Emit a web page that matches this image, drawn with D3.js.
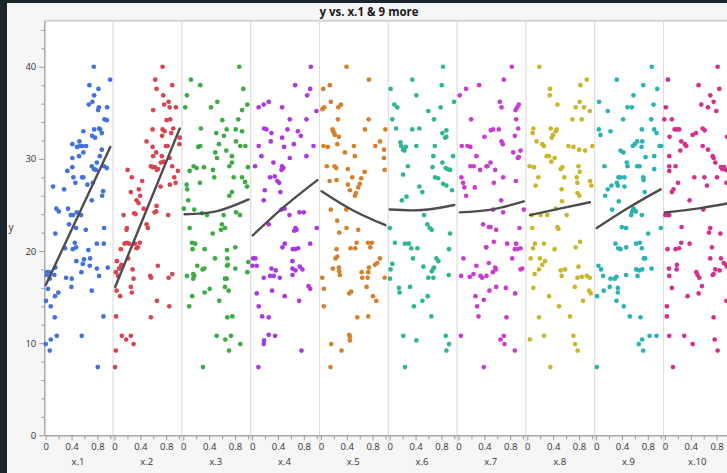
<!DOCTYPE html>
<html>
<head>
<meta charset="utf-8">
<script src="https://cdn.jsdelivr.net/npm/d3@7"></script>
<style>
  html, body { margin: 0; padding: 0; background: #1b252c; }
  svg { display: block; }
  text { font-family: "Open Sans", "Segoe UI", sans-serif; }
</style>
</head>
<body>
<svg id="chart" width="727" height="473"></svg>
<script>
// ---- data ----
const panelNames = ["x.1", "x.2", "x.3", "x.4", "x.5", "x.6", "x.7", "x.8", "x.9", "x.10"];
const panelColors = ["#4170e0", "#d84452", "#3bab42", "#ab38e4", "#d5802b", "#2db791", "#c83dd0", "#c8b72a", "#2ab2b4", "#d6308f"];
const yMajorTicks = [0, 10, 20, 30, 40];
const xMajorTicks = [0, 0.4, 0.8];
const xMinorTicks = [0.2, 0.6, 1.0];

const pts1 = [[0.744,40.0],[0.997,38.6],[0.676,38.0],[0.816,37.6],[0.749,36.9],[0.667,35.9],[0.722,36.2],[0.822,35.6],[0.811,35.3],[0.950,35.6],[0.909,34.3],[0.946,34.2],[0.583,33.0],[0.749,33.2],[0.826,33.3],[0.842,33.2],[0.868,32.8],[0.718,32.5],[0.764,32.3],[0.412,31.6],[0.521,31.9],[0.485,31.3],[0.532,31.4],[0.563,31.4],[0.625,31.4],[0.583,30.7],[0.868,31.0],[0.412,30.1],[0.516,30.3],[0.837,30.3],[0.335,28.7],[0.412,29.1],[0.713,29.2],[0.744,28.9],[0.775,28.8],[0.791,29.6],[0.904,29.2],[0.946,29.0],[0.428,28.0],[0.563,28.0],[0.583,28.0],[0.459,27.4],[0.113,27.0],[0.284,26.7],[0.645,27.2],[0.729,27.4],[0.888,26.5],[0.873,26.0],[0.713,25.5],[0.164,24.6],[0.202,24.3],[0.346,24.6],[0.481,24.2],[0.388,23.9],[0.423,23.9],[0.547,23.9],[0.361,22.9],[0.470,22.5],[0.620,22.3],[0.904,22.5],[0.149,21.9],[0.450,20.9],[0.791,20.8],[0.899,20.8],[0.470,20.4],[0.299,20.3],[0.419,20.2],[0.660,20.1],[0.474,18.9],[0.593,19.1],[0.687,19.2],[0.574,18.6],[0.682,18.4],[0.552,17.7],[0.791,18.1],[0.826,17.3],[0.961,18.2],[0.020,17.7],[0.051,17.7],[0.016,17.4],[0.133,17.4],[0.149,18.2],[0.062,17.0],[0.315,17.1],[0.403,17.0],[0.397,16.1],[0.036,15.9],[0.195,15.5],[0.144,15.1],[0.713,15.7],[0.005,14.6],[0.078,14.0],[0.140,12.8],[0.893,12.9],[0.171,10.8],[0.558,10.8],[0.078,10.4],[0.000,9.9],[0.062,9.2],[0.806,7.4]];

const pts2 = [[0.744,40.0],[0.630,38.6],[0.651,37.6],[0.893,38.0],[0.754,36.9],[0.769,35.9],[0.837,36.2],[0.853,35.6],[0.950,35.6],[0.598,35.3],[0.806,34.2],[0.862,34.3],[0.589,33.2],[0.744,33.2],[0.775,33.0],[0.909,33.3],[0.737,32.5],[0.878,32.8],[1.010,32.3],[0.496,31.9],[1.005,31.6],[0.589,31.3],[0.795,31.4],[0.822,31.4],[0.645,30.7],[0.598,30.3],[0.733,30.3],[0.853,30.1],[0.671,28.9],[0.563,29.2],[0.589,29.1],[0.625,29.1],[0.656,28.8],[0.718,29.6],[0.760,29.7],[0.893,29.2],[0.981,28.7],[0.202,28.8],[0.268,28.0],[0.924,28.0],[0.428,27.6],[0.713,27.0],[0.857,27.2],[0.946,27.4],[0.253,26.4],[0.377,26.7],[0.397,26.0],[0.341,25.5],[0.372,25.2],[0.651,24.9],[0.450,24.6],[0.645,24.3],[0.620,24.2],[0.140,23.9],[0.304,24.1],[0.326,24.0],[0.831,23.9],[0.496,22.9],[0.516,22.5],[0.191,22.5],[0.186,22.3],[0.155,20.8],[0.191,20.9],[0.226,20.8],[0.315,20.8],[0.392,20.9],[0.361,20.4],[0.341,20.3],[0.098,20.2],[0.211,19.2],[0.036,18.9],[0.109,18.5],[0.098,18.3],[0.071,18.1],[0.279,18.0],[0.671,18.4],[0.020,17.7],[0.056,17.3],[0.552,17.3],[0.567,17.1],[0.893,17.5],[0.837,17.1],[0.295,17.0],[0.031,15.7],[0.253,16.1],[0.268,15.5],[0.087,15.1],[0.656,14.6],[0.847,14.0],[0.025,12.9],[0.563,12.8],[0.113,10.8],[0.253,10.8],[0.180,10.4],[0.295,9.9],[0.020,9.2],[0.009,7.4]];

const pts3 = [[0.867,40.0],[0.118,38.6],[0.262,38.0],[0.929,37.6],[0.056,36.9],[0.029,35.6],[0.428,35.6],[0.526,36.2],[0.991,35.9],[0.909,35.3],[0.603,34.2],[0.851,34.3],[0.273,33.3],[0.671,33.2],[0.811,33.2],[0.909,33.0],[0.510,32.8],[0.629,32.5],[0.552,31.6],[0.816,31.9],[0.231,31.3],[0.262,31.4],[0.665,30.9],[0.882,31.4],[0.960,31.4],[0.495,30.7],[0.753,30.3],[0.521,30.1],[0.160,29.2],[0.098,28.7],[0.206,29.0],[0.319,29.1],[0.459,28.8],[0.712,29.2],[0.753,29.6],[1.000,29.1],[0.479,28.0],[0.780,28.0],[0.909,28.0],[0.955,27.5],[0.257,27.4],[0.051,27.2],[0.060,26.7],[0.986,27.0],[0.753,26.4],[0.712,26.0],[0.076,25.5],[0.009,24.6],[0.169,24.5],[0.816,24.2],[0.288,24.1],[0.366,23.9],[0.625,23.9],[0.878,23.9],[0.598,22.9],[0.645,22.5],[0.583,22.3],[0.098,22.5],[0.454,21.9],[0.133,20.9],[0.184,20.8],[0.144,20.2],[0.330,20.2],[0.805,20.4],[0.676,20.1],[0.681,19.2],[0.490,19.2],[1.006,18.8],[0.691,18.5],[0.676,18.4],[0.216,18.4],[0.324,18.1],[0.299,18.0],[0.805,18.1],[0.991,17.7],[0.056,17.3],[0.153,17.5],[0.169,17.3],[0.153,17.0],[0.645,17.0],[0.671,17.0],[0.408,15.9],[0.330,15.5],[0.645,16.1],[0.702,15.7],[0.138,15.1],[0.557,14.6],[0.091,14.0],[0.681,12.8],[0.758,12.9],[0.516,10.8],[0.738,10.8],[0.650,10.4],[0.882,9.9],[0.707,9.2],[0.304,7.4]];

const pts4 = [[0.909,40.0],[0.666,38.0],[0.898,37.6],[0.852,36.9],[0.102,35.6],[0.180,35.9],[0.257,36.2],[0.464,35.6],[0.996,35.2],[0.583,34.3],[0.185,33.3],[0.221,33.2],[0.299,32.8],[0.547,33.2],[0.708,33.0],[0.841,34.3],[0.754,32.5],[0.464,32.3],[0.289,31.9],[0.102,31.4],[0.495,31.3],[0.645,31.6],[0.950,31.4],[0.144,30.3],[0.583,30.1],[0.330,29.6],[0.045,29.2],[0.464,29.2],[0.485,29.0],[0.454,28.8],[0.278,28.0],[0.350,28.1],[0.391,27.6],[0.418,27.4],[0.841,30.3],[0.438,26.4],[0.196,26.6],[0.180,25.5],[0.454,24.5],[0.501,24.6],[0.578,23.9],[0.733,24.2],[0.800,24.2],[0.257,22.9],[0.671,22.5],[0.687,22.3],[0.651,22.2],[1.000,22.5],[0.505,20.8],[0.469,20.4],[0.899,20.8],[0.630,20.2],[0.666,20.2],[0.712,20.3],[0.014,19.2],[0.051,19.2],[0.071,18.4],[0.004,18.4],[0.624,18.9],[0.299,18.1],[0.366,17.9],[0.335,17.3],[0.278,17.3],[0.428,17.1],[0.624,18.1],[0.671,17.9],[0.738,18.3],[0.779,18.0],[0.624,17.4],[0.180,17.1],[0.309,15.7],[0.505,15.1],[0.872,16.2],[0.898,15.9],[0.071,15.4],[0.102,14.0],[0.728,14.6],[0.154,12.9],[0.257,12.8],[0.185,10.3],[0.180,9.9],[0.257,10.9],[0.355,10.8],[0.764,9.2],[0.097,7.4]];

const pts5 = [[0.397,40.0],[0.743,38.6],[0.035,37.6],[0.138,38.0],[0.024,35.4],[0.050,35.6],[0.154,36.2],[0.268,35.6],[0.310,35.9],[0.263,34.3],[0.738,34.3],[0.180,33.2],[0.190,33.0],[0.216,32.6],[0.278,32.4],[0.206,32.8],[0.681,33.2],[0.997,33.2],[0.914,31.9],[0.040,31.4],[0.107,31.3],[0.253,31.6],[0.510,31.4],[0.841,31.4],[0.976,31.0],[0.371,30.7],[0.526,30.3],[0.976,30.1],[0.092,29.2],[0.211,29.2],[0.237,29.0],[0.417,28.9],[0.676,28.6],[0.986,28.8],[0.134,27.6],[0.242,27.7],[0.485,28.0],[0.417,27.2],[0.448,26.6],[0.603,27.3],[0.624,27.9],[0.578,26.9],[0.542,26.3],[0.526,26.0],[0.154,24.5],[0.392,24.5],[0.253,23.3],[0.397,22.5],[0.578,22.3],[0.284,22.0],[0.552,20.9],[0.459,20.3],[0.532,20.3],[0.728,20.9],[0.764,20.4],[0.790,20.9],[0.242,20.2],[0.227,19.2],[0.253,19.4],[0.020,17.1],[0.045,15.9],[0.045,14.0],[0.185,18.1],[0.278,18.2],[0.294,17.4],[0.284,17.8],[0.630,17.7],[0.733,17.7],[0.723,17.1],[0.640,17.1],[0.743,18.2],[0.836,18.5],[0.872,18.7],[0.914,19.2],[0.986,17.1],[0.707,16.1],[0.438,15.4],[0.469,15.6],[0.806,15.1],[0.857,14.6],[0.563,12.8],[0.733,12.9],[0.438,10.9],[0.448,10.7],[0.448,10.3],[0.159,9.9],[0.319,9.2],[0.149,7.4]];

const pts6 = [[0.826,40.0],[0.350,38.6],[0.805,38.0],[0.014,37.6],[0.412,36.9],[0.995,36.2],[0.071,35.9],[0.117,35.6],[0.598,35.2],[0.788,35.6],[0.040,34.3],[0.686,34.3],[0.097,33.3],[0.350,33.2],[0.459,33.3],[0.815,32.8],[0.877,33.1],[0.877,32.4],[0.857,32.3],[0.177,31.4],[0.207,31.0],[0.227,30.9],[0.248,31.3],[0.166,31.8],[0.412,31.4],[0.698,31.4],[0.980,30.3],[0.676,30.3],[0.281,29.2],[0.664,29.1],[0.815,29.6],[0.867,29.0],[0.893,28.9],[0.934,28.8],[0.207,28.3],[0.702,28.0],[0.748,27.9],[0.826,27.3],[0.877,27.1],[0.964,26.6],[0.459,27.0],[0.505,26.4],[0.188,25.5],[0.260,25.9],[0.531,23.9],[0.583,22.9],[0.619,22.5],[0.650,22.3],[0.000,22.5],[0.934,21.9],[0.081,20.9],[0.236,20.8],[0.298,20.8],[0.334,20.3],[0.428,20.3],[0.722,19.2],[0.753,18.9],[0.676,18.1],[0.650,17.8],[0.686,18.2],[0.918,20.2],[0.360,19.2],[0.040,18.6],[0.014,18.0],[0.004,17.0],[0.521,18.3],[0.598,17.1],[0.676,17.1],[0.914,17.4],[0.143,16.0],[0.153,15.5],[0.314,16.1],[0.588,15.1],[0.505,14.6],[0.375,14.0],[0.645,12.9],[0.210,10.8],[0.412,10.3],[0.867,10.8],[0.918,9.9],[0.877,9.2],[0.236,7.4]];

const pts7 = [[0.019,36.9],[0.117,37.6],[0.319,38.0],[0.195,34.3],[0.050,31.4],[0.138,31.4],[0.184,31.3],[0.277,30.3],[0.448,29.2],[0.184,29.2],[0.236,29.2],[0.335,28.8],[0.045,28.0],[0.071,27.4],[0.091,26.9],[0.117,26.0],[0.252,26.9],[0.469,22.6],[0.076,19.2],[0.040,17.3],[0.174,17.2],[0.231,17.5],[0.277,18.4],[0.340,17.3],[0.366,17.1],[0.428,20.4],[0.262,15.1],[0.288,14.0],[0.309,12.9],[0.433,17.3],[0.036,10.8],[0.391,7.4],[0.825,40.0],[0.701,38.6],[0.639,36.2],[0.665,35.6],[0.934,35.9],[0.908,35.6],[0.882,35.3],[0.892,34.3],[0.923,33.3],[0.536,33.2],[0.500,33.1],[0.402,32.4],[0.624,33.2],[0.665,31.9],[0.686,31.6],[0.872,32.5],[0.846,30.7],[0.960,30.9],[0.934,30.2],[0.918,30.1],[0.495,29.6],[0.433,29.2],[0.567,28.8],[0.546,27.4],[0.691,28.0],[0.887,27.6],[0.660,25.5],[0.536,24.5],[0.691,24.2],[1.011,24.5],[0.381,22.9],[0.495,22.6],[0.582,22.3],[0.944,22.5],[0.546,21.0],[0.428,20.4],[0.753,20.8],[0.892,20.8],[0.872,20.2],[0.908,20.2],[0.960,20.3],[0.831,19.2],[0.469,18.7],[0.567,18.2],[0.577,18.0],[0.531,17.7],[0.986,18.1],[0.960,18.0],[0.391,14.7],[0.582,16.1],[0.479,15.7],[0.732,16.0],[0.877,15.4],[0.743,12.8],[0.650,10.4],[0.712,9.9],[0.701,10.8],[0.872,9.2]];

const pts8 = [[0.186,40.0],[0.920,38.6],[0.352,37.6],[0.347,36.9],[0.821,38.0],[0.465,35.9],[0.749,35.6],[0.811,36.2],[0.878,35.6],[0.966,35.2],[0.697,34.3],[0.842,34.3],[0.093,33.3],[0.082,32.8],[0.362,33.3],[0.455,33.2],[0.440,33.0],[0.398,32.6],[0.377,32.3],[0.144,31.9],[0.232,31.6],[0.258,31.4],[0.636,31.4],[0.713,31.3],[0.801,31.0],[0.894,30.9],[1.007,31.4],[0.300,30.3],[0.336,30.3],[0.372,29.7],[0.424,30.1],[0.036,29.2],[0.103,29.1],[0.517,28.9],[0.543,29.1],[0.170,28.0],[0.129,27.1],[0.573,28.0],[0.791,29.2],[0.811,28.6],[0.765,28.0],[0.775,27.4],[0.971,27.6],[0.992,27.1],[0.532,26.7],[0.775,26.3],[0.806,26.0],[0.537,25.4],[0.069,23.9],[0.206,23.9],[0.309,23.9],[0.609,23.9],[0.440,24.6],[0.077,22.5],[0.465,22.6],[0.481,22.4],[0.118,20.8],[0.258,20.8],[0.088,20.3],[0.052,19.2],[0.196,19.2],[0.274,18.9],[0.232,18.5],[0.180,18.0],[0.113,17.5],[0.423,20.2],[0.749,20.4],[0.816,21.0],[0.791,18.3],[0.517,17.9],[0.584,18.0],[0.532,17.3],[0.734,16.1],[0.775,17.1],[0.842,17.2],[0.920,17.3],[0.966,17.1],[0.956,15.7],[0.982,15.4],[0.093,16.0],[0.336,15.1],[0.863,14.6],[0.491,14.0],[0.180,12.8],[0.661,12.9],[0.041,10.4],[0.258,10.8],[0.713,10.8],[0.739,9.9],[0.780,9.2],[0.356,7.4]];

const pts9 = [[0.862,40.0],[0.320,38.6],[0.729,38.0],[0.946,37.6],[0.578,36.9],[0.046,36.2],[0.180,35.2],[0.486,35.6],[0.553,35.6],[0.889,35.9],[0.418,34.3],[0.853,34.3],[0.041,33.2],[0.067,32.6],[0.222,33.0],[0.708,33.2],[0.899,33.2],[0.935,32.8],[0.599,31.6],[0.568,31.4],[0.635,31.9],[0.713,31.9],[0.982,31.4],[1.007,31.4],[0.377,30.9],[0.423,30.7],[0.129,29.2],[0.475,29.6],[0.486,29.2],[0.635,29.2],[0.672,29.2],[0.765,30.2],[0.703,31.3],[0.899,30.3],[0.899,28.9],[0.346,28.0],[0.377,28.0],[0.439,28.0],[0.320,27.4],[0.336,27.1],[0.439,27.0],[0.729,28.0],[0.734,27.7],[0.140,26.0],[0.180,26.7],[0.237,27.1],[0.751,26.4],[0.806,21.9],[0.247,24.5],[0.351,25.4],[0.579,24.6],[0.615,24.3],[0.558,24.3],[0.594,24.4],[0.543,23.9],[0.708,23.9],[0.398,22.6],[0.465,22.5],[1.002,22.5],[0.300,20.8],[0.341,20.3],[0.377,20.2],[0.465,20.4],[0.620,20.8],[0.677,20.9],[0.708,20.3],[0.739,19.2],[0.760,19.2],[0.620,18.0],[0.667,17.9],[0.713,18.0],[0.641,17.3],[0.858,18.1],[0.036,18.4],[0.077,18.0],[0.108,17.3],[0.015,15.1],[0.118,15.7],[0.222,17.0],[0.289,17.0],[0.315,17.2],[0.336,16.0],[0.336,15.5],[0.211,16.1],[0.315,14.6],[0.465,17.4],[0.428,14.0],[0.522,12.9],[0.687,12.8],[0.713,10.4],[0.661,9.9],[0.729,9.2],[0.827,10.8],[0.935,10.8],[0.011,7.4]];

const pts10 = [[0.816,40.0],[0.046,38.6],[0.842,37.6],[0.521,38.0],[0.702,36.9],[0.754,36.2],[0.563,35.9],[0.666,35.6],[0.796,35.2],[0.015,35.6],[-0.010,34.3],[0.108,34.3],[0.150,33.2],[0.186,33.2],[0.222,33.2],[0.429,32.6],[0.481,32.8],[0.584,33.3],[0.615,33.1],[0.072,32.4],[0.253,31.9],[0.310,31.6],[0.331,31.4],[0.237,30.9],[0.584,31.4],[0.666,31.0],[0.961,32.4],[0.739,30.3],[0.754,30.1],[0.780,29.6],[0.868,29.1],[0.889,28.9],[0.915,29.1],[0.946,28.8],[0.067,30.3],[0.067,29.2],[0.067,28.7],[0.165,29.2],[0.202,27.4],[0.134,26.7],[0.108,26.4],[0.455,28.0],[0.610,28.0],[0.651,27.1],[0.806,28.0],[0.951,27.4],[0.382,25.5],[0.041,23.9],[0.067,23.9],[0.005,23.9],[0.594,24.5],[0.258,22.6],[0.702,22.5],[0.682,22.0],[0.858,21.9],[0.253,20.9],[0.382,20.8],[0.165,20.2],[0.222,20.3],[0.041,20.2],[0.728,20.4],[0.702,19.2],[0.868,19.2],[0.910,18.7],[0.946,18.5],[0.961,18.3],[0.062,18.1],[0.186,18.5],[0.181,18.0],[0.067,17.3],[0.486,17.7],[0.506,17.4],[0.532,17.1],[0.573,16.2],[0.522,15.4],[0.754,17.5],[0.780,18.0],[0.847,17.9],[0.739,17.4],[0.108,16.0],[0.351,15.1],[0.951,14.6],[0.031,14.0],[0.031,12.9],[0.754,12.8],[0.067,10.8],[0.299,10.8],[0.429,9.9],[0.770,10.4],[0.816,9.2],[0.124,7.4]];

const panelPoints = [pts1, pts2, pts3, pts4, pts5, pts6, pts7, pts8, pts9, pts10];

// fitted curve per panel: [x, y] at the first, middle and last point
const fitStart = [[0.00,16.3],[0.01,16.1],[0.02,24.0],[0.01,21.7],[0.01,26.5],[0.00,24.5],[0.02,24.2],[0.04,23.9],[0.01,22.5],[0.00,24.2]];
const fitMid   = [[0.50,23.8],[0.51,24.7],[0.51,24.3],[0.51,24.9],[0.50,24.4],[0.50,24.45],[0.51,24.5],[0.50,24.6],[0.50,24.7],[0.50,24.6]];
const fitEnd   = [[1.00,31.3],[1.01,33.3],[1.01,25.6],[1.01,27.7],[1.00,22.8],[1.00,25.0],[1.01,25.4],[0.97,25.3],[1.00,26.7],[1.00,25.2]];

// ---- layout ----
const W = 727, H = 473;
const plotLeft = 44.3, plotTop = 20.7, plotBottom = 435.3;
const panelW = 68.8;

const svg = d3.select("#chart");

// window frame and page background
svg.append("rect").attr("x", 0).attr("y", 0).attr("width", W).attr("height", H).attr("fill", "#1b252c");
svg.append("rect").attr("x", 7).attr("y", 3).attr("width", W - 7).attr("height", H - 3).attr("fill", "#f6f6f6");

// title
svg.append("text")
  .attr("x", 369).attr("y", 16)
  .attr("text-anchor", "middle")
  .attr("font-size", 11.5).attr("font-weight", "bold").attr("fill", "#1a1a1a")
  .text("y vs. x.1 & 9 more");

const plotRight = plotLeft + panelW * panelNames.length;

// white plotting area
svg.append("rect")
  .attr("x", plotLeft).attr("y", plotTop)
  .attr("width", plotRight - plotLeft).attr("height", plotBottom - plotTop)
  .attr("fill", "#ffffff");

const y = d3.scaleLinear().domain([0, 45]).range([plotBottom, plotTop]);

// top border
svg.append("line")
  .attr("x1", plotLeft).attr("x2", plotRight)
  .attr("y1", plotTop).attr("y2", plotTop)
  .attr("stroke", "#d2d2d2").attr("stroke-width", 2);

// y axis: major and minor ticks
const yAxis = svg.append("g").attr("transform", `translate(${plotLeft},0)`)
  .call(d3.axisLeft(y).tickValues(yMajorTicks).tickSize(5).tickSizeOuter(0).tickPadding(3).tickFormat(d3.format("d")));
const yMinor = d3.range(2, 45, 2).filter(v => v % 10 !== 0);
svg.append("g").attr("transform", `translate(${plotLeft},0)`)
  .call(d3.axisLeft(y).tickValues(yMinor).tickSize(3).tickFormat(""))
  .call(g => g.select(".domain").remove());

svg.selectAll(".tick line").attr("stroke", "#9a9a9a");
yAxis.select(".domain").attr("stroke", "#a8a8a8").attr("stroke-width", 1.5);
yAxis.selectAll("text").attr("font-size", 9.5).attr("fill", "#333")
  .style("font-family", "'Open Sans', sans-serif");

// y axis title
svg.append("text")
  .attr("x", 11).attr("y", 231).attr("text-anchor", "middle")
  .attr("font-size", 10).attr("fill", "#333").text("y");

// panels
const x = d3.scaleLinear().domain([-0.022, 1.043]).range([0, panelW]);

panelNames.forEach((name, i) => {
  const left = plotLeft + i * panelW;
  const g = svg.append("g").attr("transform", `translate(${left},0)`);

  // separator on the right edge of each panel
  if (i < panelNames.length - 1) {
    g.append("line")
      .attr("x1", panelW).attr("x2", panelW)
      .attr("y1", plotTop).attr("y2", plotBottom + 8)
      .attr("stroke", "#dedede").attr("stroke-width", 1.2);
  }

  // bottom axis per panel
  const ax = g.append("g").attr("transform", `translate(0,${plotBottom})`)
    .call(d3.axisBottom(x).tickValues(xMajorTicks).tickSize(5).tickSizeOuter(0).tickPadding(3)
      .tickFormat(d => d === 0 ? "0" : d3.format(".1f")(d)));
  ax.select(".domain").attr("stroke", "#a8a8a8").attr("stroke-width", 1.5);
  ax.selectAll("line").attr("stroke", "#9a9a9a");
  ax.selectAll("text").attr("font-size", 9.5).attr("fill", "#333")
    .style("font-family", "'Open Sans', sans-serif");

  const axMinor = g.append("g").attr("transform", `translate(0,${plotBottom})`)
    .call(d3.axisBottom(x).tickValues(xMinorTicks).tickSize(4).tickFormat(""));
  axMinor.select(".domain").remove();
  axMinor.selectAll("line").attr("stroke", "#9a9a9a");

  // panel title under the axis
  g.append("text")
    .attr("x", x(0.5)).attr("y", 465)
    .attr("text-anchor", "middle")
    .attr("font-size", 9.5).attr("fill", "#333")
    .text(name);

  // points
  g.append("g").selectAll("circle")
    .data(panelPoints[i])
    .join("circle")
    .attr("cx", d => x(d[0]))
    .attr("cy", d => y(d[1]))
    .attr("r", 2.35)
    .attr("fill", panelColors[i]);

  // fitted curve
  const fit = [fitStart[i], fitMid[i], fitEnd[i]];
  g.append("path")
    .datum(fit)
    .attr("fill", "none")
    .attr("stroke", "#4d4d4d")
    .attr("stroke-width", 2.4)
    .attr("stroke-linecap", "round")
    .attr("d", d3.line().x(d => x(d[0])).y(d => y(d[1])).curve(d3.curveNatural));
});
</script>
</body>
</html>
